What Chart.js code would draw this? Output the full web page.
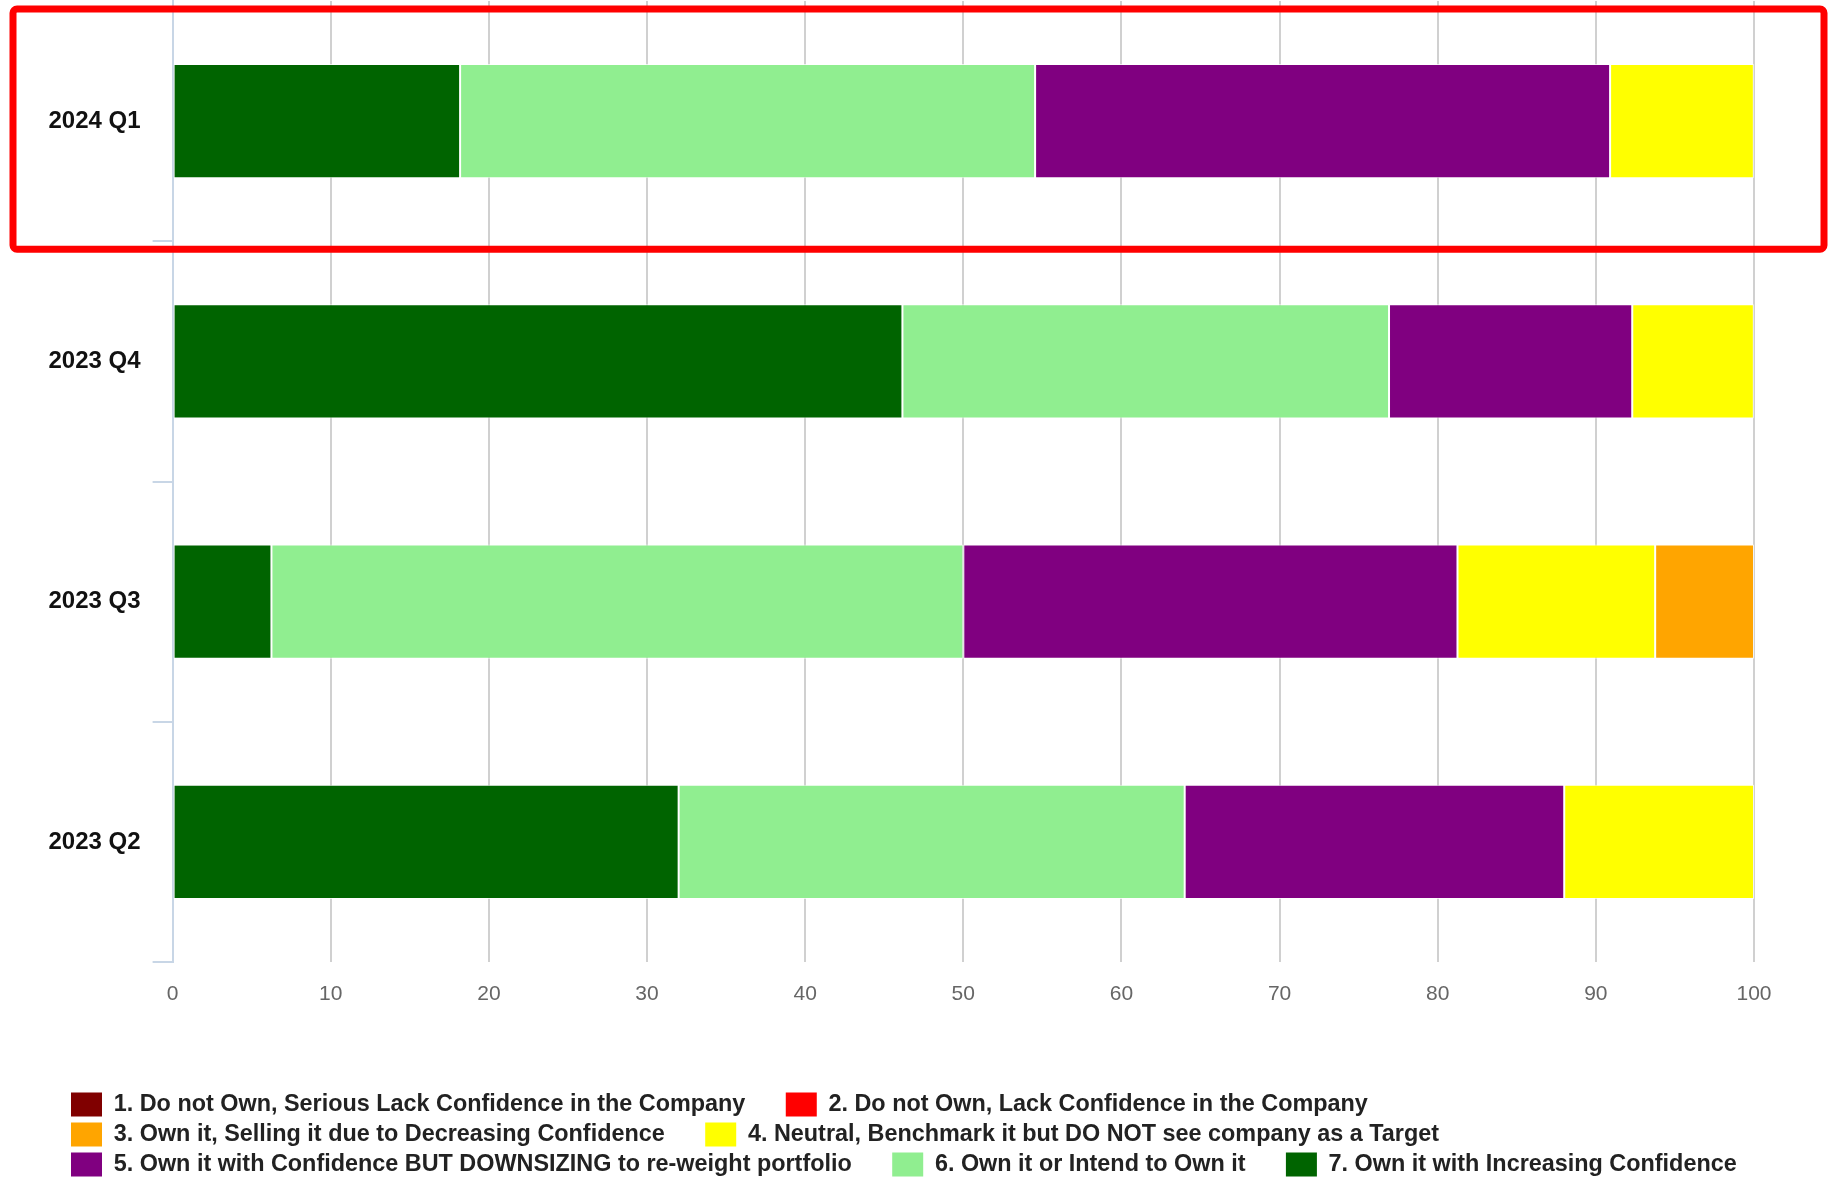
<!DOCTYPE html>
<html>
<head>
<meta charset="utf-8">
<title>Confidence by quarter</title>
<script src="https://cdn.jsdelivr.net/npm/chart.js@4/dist/chart.umd.min.js"></script>
<style>
  html, body { margin: 0; padding: 0; background: #ffffff; }
  #wrap { position: relative; width: 1829px; height: 1178px; }
</style>
</head>
<body>
<div id="wrap"><canvas id="chart"></canvas></div>
<script>
// Survey quarters, listed top to bottom
const quarters = ['2024 Q1', '2023 Q4', '2023 Q3', '2023 Q2'];

// Response categories, in legend order
const seriesNames = [
  '1. Do not Own, Serious Lack Confidence in the Company',
  '2. Do not Own, Lack Confidence in the Company',
  '3. Own it, Selling it due to Decreasing Confidence',
  '4. Neutral, Benchmark it but DO NOT see company as a Target',
  '5. Own it with Confidence BUT DOWNSIZING to re-weight portfolio',
  '6. Own it or Intend to Own it',
  '7. Own it with Increasing Confidence'
];
const seriesColors = ['#800000', '#ff0000', '#ffa500', '#ffff00', '#800080', '#90ee90', '#006400'];

// Share of respondents (%) per quarter, same order as quarters
const seriousLack        = [0, 0, 0, 0];
const lackConfidence     = [0, 0, 0, 0];
const sellingDecreasing  = [0, 0, 6.25, 0];
const neutralBenchmark   = [9.09, 7.69, 12.5, 12];
const downsizing         = [36.36, 15.38, 31.25, 24];
const ownOrIntend        = [36.36, 30.77, 43.75, 32];
const increasingConf     = [18.18, 46.15, 6.25, 32];

const seriesValues = [seriousLack, lackConfidence, sellingDecreasing, neutralBenchmark,
                      downsizing, ownOrIntend, increasingConf];

// X axis ticks
const xTicks = [0, 10, 20, 30, 40, 50, 60, 70, 80, 90, 100];

// Stack from category 7 outward, so the strongest confidence sits at the axis
const datasets = [];
for (let i = seriesNames.length - 1; i >= 0; i--) {
  datasets.push({
    label: seriesNames[i],
    data: seriesValues[i],
    backgroundColor: seriesColors[i],
    borderColor: 'rgba(255,255,255,0.75)',
    borderWidth: 1,
    borderSkipped: false,
    barPercentage: 0.475,
    categoryPercentage: 1.0
  });
}

// Red frame around the most recent quarter
const highlightBox = {
  id: 'highlightBox',
  afterDraw(chart, args, opts) {
    const y = chart.scales.y;
    const idx = quarters.indexOf(opts.category);
    if (idx < 0) return;
    const step = y.getPixelForValue(1) - y.getPixelForValue(0);
    const top = y.getPixelForValue(idx) - step / 2 + opts.shift;
    const bottom = top + step;
    const left = opts.inset;
    const right = chart.width - opts.insetRight;
    const ctx = chart.ctx;
    ctx.save();
    ctx.strokeStyle = opts.color;
    ctx.lineWidth = opts.lineWidth;
    ctx.beginPath();
    ctx.roundRect(left, top, right - left, bottom - top, opts.radius);
    ctx.stroke();
    ctx.restore();
  }
};

// Indent the legend rows so they start under the category labels
const legendIndent = {
  id: 'legendIndent',
  afterLayout(chart, args, opts) {
    if (chart.legend) chart.legend.left += opts.offset;
  }
};

const legendGap = '     \u200A';
const axisBlue = '#c8d6e6';

new Chart(document.getElementById('chart'), {
  type: 'bar',
  data: { labels: quarters, datasets },
  plugins: [highlightBox, legendIndent],
  options: {
    indexAxis: 'y',
    responsive: true,
    maintainAspectRatio: false,
    animation: false,
    layout: { padding: { left: 0, right: 0, top: 1, bottom: -8.5 } },
    scales: {
      x: {
        stacked: true,
        min: 0,
        max: 100,
        afterBuildTicks(scale) { scale.ticks = xTicks.map(v => ({ value: v })); },
        afterFit(scale) { scale.height = 124.5; scale.paddingRight = 75; },
        ticks: {
          color: '#666666',
          padding: 20,
          font: { family: '"Liberation Sans", Arial, sans-serif', size: 21 }
        },
        grid: { color: '#d0d0d0', lineWidth: 2, drawTicks: false },
        border: { display: false }
      },
      y: {
        stacked: true,
        afterFit(scale) { scale.width = 172.6; scale.paddingTop = 0; scale.paddingBottom = 0; },
        ticks: {
          color: '#111111',
          padding: 12,
          font: { family: '"Liberation Sans", Arial, sans-serif', size: 24, weight: 'bold' }
        },
        grid: {
          drawOnChartArea: false,
          drawTicks: true,
          tickLength: 20,
          offset: true,
          color: (ctx) => (ctx.index === 0 ? 'rgba(0,0,0,0)' : axisBlue),
          lineWidth: 2
        },
        border: { display: true, color: axisBlue, width: 2 }
      }
    },
    plugins: {
      legend: {
        position: 'bottom',
        align: 'start',
        reverse: true,
        labels: {
          boxWidth: 31,
          boxHeight: 24,
          padding: 6,
          color: '#222222',
          font: { family: '"Liberation Sans", Arial, sans-serif', size: 23.4, weight: 'bold' },
          generateLabels(chart) {
            const items = Chart.defaults.plugins.legend.labels.generateLabels(chart);
            items.forEach(it => { it.text = it.text + legendGap; it.lineWidth = 0; });
            return items;
          }
        }
      },
      tooltip: { enabled: false },
      legendIndent: { offset: 65 },
      highlightBox: {
        category: '2024 Q1',
        color: '#ff0000',
        lineWidth: 7,
        radius: 4,
        inset: 13,
        insetRight: 5,
        shift: 8
      }
    }
  }
});
</script>
</body>
</html>
